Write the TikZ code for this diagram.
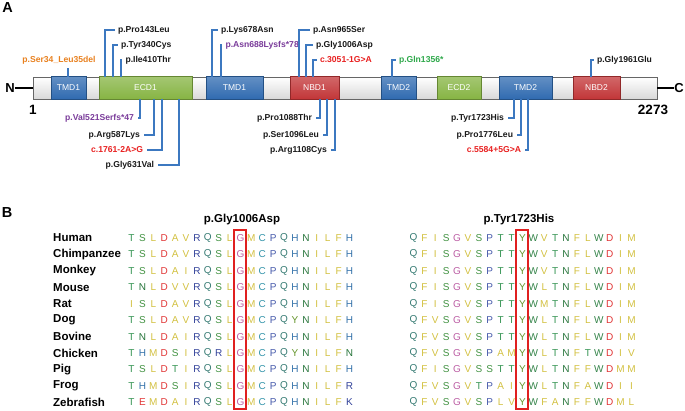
\documentclass[tikz,border=0pt]{standalone}
\usepackage{fontspec}
\setmainfont{Liberation Sans}
\definecolor{tmdblue}{HTML}{2F6AB0}
\definecolor{ecdgreen}{HTML}{86B443}
\definecolor{nbdred}{HTML}{C23537}
\definecolor{linkblue}{HTML}{3C78C0}
\definecolor{mutorange}{HTML}{E8801E}
\definecolor{mutpurple}{HTML}{7A3C9A}
\definecolor{mutred}{HTML}{E82020}
\definecolor{mutgreen}{HTML}{2EA84A}
\definecolor{boxred}{HTML}{E02020}
\definecolor{aaT}{HTML}{329250}
\definecolor{aaS}{HTML}{429242}
\definecolor{aaN}{HTML}{26743A}
\definecolor{aaQ}{HTML}{357A72}
\definecolor{aaW}{HTML}{35844A}
\definecolor{aaY}{HTML}{64942A}
\definecolor{aaC}{HTML}{3494AA}
\definecolor{aaH}{HTML}{3472AA}
\definecolor{aaP}{HTML}{4458AA}
\definecolor{aaR}{HTML}{304098}
\definecolor{aaK}{HTML}{304098}
\definecolor{aaD}{HTML}{E03434}
\definecolor{aaE}{HTML}{E03434}
\definecolor{aaG}{HTML}{BC5EA4}
\definecolor{aaA}{HTML}{D2C040}
\definecolor{aaV}{HTML}{D2C040}
\definecolor{aaI}{HTML}{D2C040}
\definecolor{aaL}{HTML}{D2C040}
\definecolor{aaM}{HTML}{D2C040}
\definecolor{aaF}{HTML}{D2C040}
\newcount\aaidx
\newcommand\seqrow[4]{\aaidx=0 \def\seqname{#1}\def\seqx{#2}\def\seqy{#3}\seqloop#4\relax}
\def\seqloop#1{\ifx\relax#1\else
  \node[aa, text=aa#1] (\seqname-\the\aaidx) at (\seqx+10.9*\the\aaidx,\seqy) {#1};
  \global\advance\aaidx by 1
  \expandafter\seqloop\fi}
\tikzset{
  seg/.style={draw=black!60, line width=0.6pt, top color=white, bottom color=black!15, minimum height=22, inner sep=0pt, outer sep=0pt},
  dom/.style={draw=#1!75!black, line width=0.6pt, top color=#1!75!white, bottom color=#1, text=white, font=\fontsize{8.5}{9}\selectfont, minimum height=23, inner sep=0pt, outer sep=0pt},
  conn/.style={draw=linkblue, line width=1.9pt},
  mut/.style={font=\bfseries\fontsize{8.6}{10}\selectfont, inner sep=0pt, outer sep=3.5pt, text=black!90},
  big/.style={font=\bfseries\fontsize{14.5}{15}\selectfont, inner sep=0pt},
  title/.style={font=\bfseries\fontsize{11.5}{12}\selectfont, inner sep=0pt},
  species/.style={font=\bfseries\fontsize{11.5}{12}\selectfont, inner sep=0pt, anchor=west},
  aa/.style={font=\fontsize{10}{10}\selectfont, inner sep=0pt},
  hbox/.style={draw=boxred, line width=1.4pt, minimum width=12, minimum height=179, inner sep=0pt}
}
\begin{document}
\begin{tikzpicture}[x=1pt,y=-1pt]
\useasboundingbox (0,0) rectangle (685,411);
% panel labels
\node[big] (labA) at (7.5,8) {A};
\node[big] (labB) at (7,213) {B};
% bar segments
\node[seg, minimum width=18] (g1) at (42,88) {};
\node[seg, minimum width=13] (g2) at (92.5,88) {};
\node[seg, minimum width=14] (g3) at (199,88) {};
\node[seg, minimum width=27] (g4) at (276.5,88) {};
\node[seg, minimum width=42] (g5) at (360,88) {};
\node[seg, minimum width=21] (g6) at (426.5,88) {};
\node[seg, minimum width=18] (g7) at (490,88) {};
\node[seg, minimum width=21] (g8) at (562.5,88) {};
\node[seg, minimum width=37] (g9) at (638.5,88) {};
% domains
\node[dom=tmdblue, minimum width=35] (d1) at (68.5,88) {TMD1};
\node[dom=ecdgreen, minimum width=93] (d2) at (145.5,88) {ECD1};
\node[dom=tmdblue, minimum width=57] (d3) at (234.5,88) {TMD1};
\node[dom=nbdred, minimum width=49] (d4) at (314.5,88) {NBD1};
\node[dom=tmdblue, minimum width=35] (d5) at (398.5,88) {TMD2};
\node[dom=ecdgreen, minimum width=44] (d6) at (459,88) {ECD2};
\node[dom=tmdblue, minimum width=53] (d7) at (525.5,88) {TMD2};
\node[dom=nbdred, minimum width=47] (d8) at (596.5,88) {NBD2};
% termini
\node[big, font=\bfseries\fontsize{13}{13}\selectfont] (nN) at (10,88) {N};
\node[big, font=\bfseries\fontsize{13}{13}\selectfont] (nC) at (679,88) {C};
\draw[line width=1.5pt] (nN.east) -- (g1.west);
\draw[line width=1.5pt] (g9.east) -- (nC.west);
\node[big, font=\bfseries\fontsize{13.5}{13}\selectfont] (n1) at (33,110) {1};
\node[big, font=\bfseries\fontsize{13.5}{13}\selectfont] (n2273) at (653,110) {2273};
% mutations above
\node[mut, text=mutorange] (m0) at (59,60) {p.Ser34\_Leu35del};
\coordinate (p0) at (68,77);
\draw[conn] (p0) -- (p0 |- m0.south);
\node[mut, anchor=west] (m1) at (114.5,30) {p.Pro143Leu};
\node[mut, anchor=west] (m2) at (117.5,45) {p.Tyr340Cys};
\node[mut, anchor=west] (m3) at (122,60) {p.Ile410Thr};
\node[mut, anchor=west] (m4) at (217.5,30) {p.Lys678Asn};
\node[mut, anchor=west, text=mutpurple] (m5) at (222,45) {p.Asn688Lysfs*78};
\node[mut, anchor=west] (m6) at (309.5,30) {p.Asn965Ser};
\node[mut, anchor=west] (m7) at (312.5,45) {p.Gly1006Asp};
\node[mut, anchor=west, text=mutred] (m8) at (316.5,60) {c.3051-1G>A};
\node[mut, anchor=west, text=mutgreen] (m9) at (395.5,60) {p.Gln1356*};
\node[mut, anchor=west] (m10) at (593.5,60) {p.Gly1961Glu};
\coordinate (p1) at (105,77);
\coordinate (p2) at (113,77);
\coordinate (p3) at (121,77);
\coordinate (p4) at (212,77);
\coordinate (p5) at (221,77);
\coordinate (p6) at (299,77);
\coordinate (p7) at (306,77);
\coordinate (p8) at (313,77);
\coordinate (p9) at (392,77);
\coordinate (p10) at (591,77);
\foreach \k in {1,...,10} { \draw[conn] (p\k) |- (m\k.west); }
% mutations below
\node[mut, anchor=east, text=mutpurple] (m11) at (137.5,118) {p.Val521Serfs*47};
\node[mut, anchor=east] (m12) at (143.5,135) {p.Arg587Lys};
\node[mut, anchor=east, text=mutred] (m13) at (146.5,150) {c.1761-2A>G};
\node[mut, anchor=east] (m14) at (157.5,165) {p.Gly631Val};
\node[mut, anchor=east] (m15) at (315.5,118) {p.Pro1088Thr};
\node[mut, anchor=east] (m16) at (322.5,135) {p.Ser1096Leu};
\node[mut, anchor=east] (m17) at (330.5,150) {p.Arg1108Cys};
\node[mut, anchor=east] (m18) at (507.5,118) {p.Tyr1723His};
\node[mut, anchor=east] (m19) at (516.5,135) {p.Pro1776Leu};
\node[mut, anchor=east, text=mutred] (m20) at (524.5,150) {c.5584+5G>A};
\coordinate (p11) at (140,99);
\coordinate (p12) at (154,99);
\coordinate (p13) at (162,99);
\coordinate (p14) at (179,99);
\coordinate (p15) at (320,99);
\coordinate (p16) at (327,99);
\coordinate (p17) at (335,99);
\coordinate (p18) at (514,99);
\coordinate (p19) at (521,99);
\coordinate (p20) at (528,99);
\foreach \k in {11,...,20} { \draw[conn] (p\k) |- (m\k.east); }
% panel B
\node[title] (t1) at (242,220) {p.Gly1006Asp};
\node[title] (t2) at (519,220) {p.Tyr1723His};
\node[species] (s1) at (53,238) {Human};
\node[species] (s2) at (53,254.4) {Chimpanzee};
\node[species] (s3) at (53,270.9) {Monkey};
\node[species] (s4) at (53,287.3) {Mouse};
\node[species] (s5) at (53,303.7) {Rat};
\node[species] (s6) at (53,320.2) {Dog};
\node[species] (s7) at (53,336.6) {Bovine};
\node[species] (s8) at (53,353.0) {Chicken};
\node[species] (s9) at (53,369.4) {Pig};
\node[species] (s10) at (53,385.9) {Frog};
\node[species] (s11) at (53,402.3) {Zebrafish};
\seqrow{a1}{131.5}{238}{TSLDAVRQSLGMCPQHNILFH}
\seqrow{a2}{131.5}{254.4}{TSLDAVRQSLGMCPQHNILFH}
\seqrow{a3}{131.5}{270.9}{TSLDAIRQSLGMCPQHNILFH}
\seqrow{a4}{131.5}{287.3}{TNLDVVRQSLGMCPQHNILFH}
\seqrow{a5}{131.5}{303.7}{ISLDAVRQSLGMCPQHNILFH}
\seqrow{a6}{131.5}{320.2}{TSLDAVRQSLGMCPQYNILFH}
\seqrow{a7}{131.5}{336.6}{TNLDAIRQSLGMCPQHNILFH}
\seqrow{a8}{131.5}{353.0}{THMDSIRQRLGMCPQYNILFN}
\seqrow{a9}{131.5}{369.4}{TSLDTIRQSLGMCPQHNILFH}
\seqrow{a10}{131.5}{385.9}{THMDSIRQSLGMCPQHNILFR}
\seqrow{a11}{131.5}{402.3}{TEMDAIRQSLGMCPQHNILFK}
\seqrow{b1}{413.5}{238}{QFISGVSPTTYWVTNFLWDIM}
\seqrow{b2}{413.5}{254.4}{QFISGVSPTTYWVTNFLWDIM}
\seqrow{b3}{413.5}{270.9}{QFISGVSPTTYWVTNFLWDIM}
\seqrow{b4}{413.5}{287.3}{QFISGVSPTTYWLTNFLWDIM}
\seqrow{b5}{413.5}{303.7}{QFISGVSPTTYWMTNFLWDIM}
\seqrow{b6}{413.5}{320.2}{QFVSGVSPTTYWLTNFLWDIM}
\seqrow{b7}{413.5}{336.6}{QFVSGVSPTTYWLTNFLWDIM}
\seqrow{b8}{413.5}{353.0}{QFVSGVSPAMYWLTNFTWDIV}
\seqrow{b9}{413.5}{369.4}{QFISGVSSTTYWLTNFFWDMM}
\seqrow{b10}{413.5}{385.9}{QFVSGVTPAIYWLTNFAWDII}
\seqrow{b11}{413.5}{402.3}{QFVSGVSPLVYWFANFFWDML}
\node[hbox] (box1) at (240,319.5) {};
\node[hbox] (box2) at (522,319.5) {};
\end{tikzpicture}
\end{document}
